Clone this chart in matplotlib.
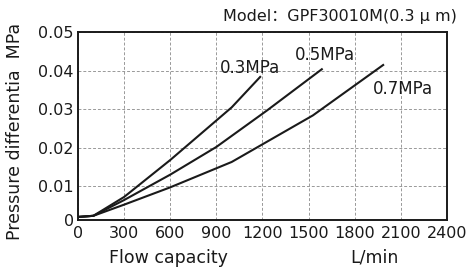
import matplotlib
matplotlib.use("Agg")
import matplotlib.pyplot as plt

# ----------------------------
# Daten
# ----------------------------
flow_03 = [0, 100, 300, 600, 1000, 1185]
dp_03 = [0.0020, 0.0023, 0.0072, 0.0168, 0.0305, 0.0384]

flow_05 = [0, 100, 300, 600, 900, 1230, 1586]
dp_05 = [0.0020, 0.0023, 0.0064, 0.0130, 0.0202, 0.0297, 0.0404]

flow_07 = [0, 100, 300, 600, 1000, 1528, 1985]
dp_07 = [0.0020, 0.0023, 0.0052, 0.0097, 0.0163, 0.0284, 0.0415]

x_ticks = [0, 300, 600, 900, 1200, 1500, 1800, 2100, 2400]
y_ticks = [0.0012, 0.01, 0.02, 0.03, 0.04, 0.05]
y_ticklabels = ["0", "0.01", "0.02", "0.03", "0.04", "0.05"]

FONT = ["DejaVu Sans", "Noto Sans CJK SC"]
plt.rcParams["font.family"] = FONT
INK = "#1a1a1a"

# ----------------------------
# Plot
# ----------------------------
fig = plt.figure(figsize=(4.69, 2.73), dpi=100)
ax = fig.add_axes([0.1663, 0.194, 0.953 - 0.1663, 0.8817 - 0.194])

for fx, dp in [(flow_03, dp_03), (flow_05, dp_05), (flow_07, dp_07)]:
    ax.plot(fx, dp, color=INK, linewidth=1.5)

ax.set_xlim(0, 2400)
ax.set_ylim(0.0012, 0.05)
ax.set_xticks(x_ticks)
ax.set_yticks(y_ticks)
ax.set_yticklabels(y_ticklabels)
ax.tick_params(length=0, labelsize=11.5, colors=INK)
ax.tick_params(axis="x", pad=4)
ax.tick_params(axis="y", pad=3)
ax.grid(True, linestyle=(0, (3, 2)), color="#999999", linewidth=0.7)
for sp in ax.spines.values():
    sp.set_linewidth(1.4)
    sp.set_color(INK)

ax.text(925, 0.0407, "0.3MPa", fontsize=12, va="center", ha="left", color=INK)
ax.text(1410, 0.0442, "0.5MPa", fontsize=12, va="center", ha="left", color=INK)
ax.text(1918, 0.0352, "0.7MPa", fontsize=12, va="center", ha="left", color=INK)

fig.text(457 / 469, 1 - 16 / 273, "Model\uff1aGPF30010M(0.3 \u03bc m)", fontsize=11.5,
         ha="right", va="center", color=INK)
fig.text(168 / 469, 1 - 258 / 273, "Flow capacity", fontsize=12.5,
         ha="center", va="center", color=INK)
fig.text(374 / 469, 1 - 258 / 273, "L/min", fontsize=12.5,
         ha="center", va="center", color=INK)
fig.text(15 / 469, 1 - 131 / 273, "Pressure differentia  MPa", fontsize=12.5,
         rotation=90, ha="center", va="center", color=INK)

fig.savefig("out.png", dpi=100)
